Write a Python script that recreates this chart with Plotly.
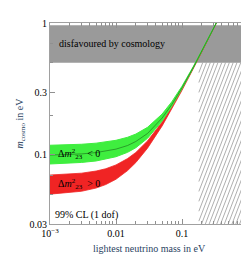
import numpy as np
import plotly.graph_objects as go

# lightest neutrino mass (eV)
m_light = [0.001, 0.002, 0.003, 0.005, 0.007, 0.01, 0.015, 0.02, 0.03, 0.05, 0.07, 0.1, 0.15, 0.2, 0.3, 0.35]
# inverted hierarchy (Δm²23 < 0)
ih_lo  = [0.0855, 0.0866, 0.0878, 0.0901, 0.0928, 0.0970, 0.1048, 0.1136, 0.1337, 0.1810, 0.2336, 0.3172, 0.4617, 0.6088, 0.9060, 1.0551]
ih_mid = [0.0998, 0.1008, 0.1019, 0.1043, 0.1069, 0.1108, 0.1180, 0.1266, 0.1455, 0.1905, 0.2410, 0.3231, 0.4660, 0.6120, 0.9080, 1.0570]
ih_hi  = [0.1185, 0.1195, 0.1206, 0.1229, 0.1253, 0.1292, 0.1362, 0.1441, 0.1619, 0.2043, 0.2528, 0.3319, 0.4722, 0.6169, 0.9114, 1.0598]
# normal hierarchy (Δm²23 > 0)
nh_lo  = [0.0505, 0.0517, 0.0531, 0.0562, 0.0597, 0.0655, 0.0762, 0.0877, 0.1125, 0.1660, 0.2222, 0.3089, 0.4561, 0.6046, 0.9031, 1.0527]
nh_hi  = [0.0705, 0.0716, 0.0728, 0.0756, 0.0787, 0.0841, 0.0940, 0.1046, 0.1277, 0.1781, 0.2320, 0.3164, 0.4613, 0.6086, 0.9058, 1.0550]

cosmo_limit = 0.5      # disfavoured by cosmology above this
cosmo_top = 0.96
hatch_xmin = 0.18      # hatched region (lightest mass)
x_range = [0.001, 1.0]
y_range = [0.03, 1.0]

x_tickvals = [0.001, 0.01, 0.1, 1]
x_ticktext = ["10<sup>\u22123</sup>", "0.01", "0.1", "1"]
y_tickvals = [0.03, 0.1, 0.3, 1]
y_ticktext = ["0.03", "0.1", "0.3", "1"]

GREEN = "#3fee3f"
RED = "#f02424"
FONT = "Liberation Serif"

fig = go.Figure()

# grey cosmology band
fig.add_trace(go.Scatter(
    x=[x_range[0], x_range[1], x_range[1], x_range[0], x_range[0]],
    y=[cosmo_limit, cosmo_limit, cosmo_top, cosmo_top, cosmo_limit],
    fill="toself", fillcolor="#9a9a9a", line=dict(width=0), mode="lines",
    hoverinfo="skip", showlegend=False))

# hatched region, lines built from region bounds in log space
xa, xb = np.log10(hatch_xmin), np.log10(x_range[1])
ya, yb = np.log10(y_range[0]), np.log10(cosmo_limit)
k = 1.3
step = 0.075
hx, hy = [], []
c = yb - k * xb
cmin = ya - k * xb
cmax = yb - k * xa
for cc in np.arange(cmax, cmin, -step):
    x1 = max(xa, (ya - cc) / k)
    x2 = min(xb, (yb - cc) / k)
    if x2 <= x1:
        continue
    hx += [10 ** x1, 10 ** x2, None]
    hy += [10 ** (k * x1 + cc), 10 ** (k * x2 + cc), None]
fig.add_trace(go.Scatter(x=hx, y=hy, mode="lines", line=dict(color="#8c8c8c", width=0.7),
                         hoverinfo="skip", showlegend=False))

# red band (normal)
fig.add_trace(go.Scatter(x=m_light, y=nh_lo, mode="lines", line=dict(color=RED, width=0.8),
                         showlegend=False, hoverinfo="skip"))
fig.add_trace(go.Scatter(x=m_light, y=nh_hi, mode="lines", line=dict(color=RED, width=0.8),
                         fill="tonexty", fillcolor=RED, showlegend=False, hoverinfo="skip"))
# green band (inverted)
fig.add_trace(go.Scatter(x=m_light, y=ih_lo, mode="lines", line=dict(color=GREEN, width=1),
                         showlegend=False, hoverinfo="skip"))
fig.add_trace(go.Scatter(x=m_light, y=ih_hi, mode="lines", line=dict(color=GREEN, width=1),
                         fill="tonexty", fillcolor=GREEN, showlegend=False, hoverinfo="skip"))
fig.add_trace(go.Scatter(x=m_light, y=ih_mid, mode="lines", line=dict(color="#1f7a1f", width=0.7),
                         showlegend=False, hoverinfo="skip"))

ann_font = dict(family=FONT, size=10, color="black")
fig.add_annotation(x=0.033, y=0.896, xref="paper", yref="paper", xanchor="left", yanchor="middle",
                   text="disfavoured by cosmology", showarrow=False, font=ann_font)
fig.add_annotation(x=0.03, y=0.35, xref="paper", yref="paper", xanchor="left", yanchor="middle",
                   text="\u0394<i>m</i><sup>2</sup><sub>23</sub>  < 0", showarrow=False, font=ann_font)
fig.add_annotation(x=0.03, y=0.20, xref="paper", yref="paper", xanchor="left", yanchor="middle",
                   text="\u0394<i>m</i><sup>2</sup><sub>23</sub>  > 0", showarrow=False, font=ann_font)
fig.add_annotation(x=0.016, y=0.047, xref="paper", yref="paper", xanchor="left", yanchor="middle",
                   text="99% CL (1 dof)", showarrow=False, font=ann_font)

x_minor = [d * 10 ** e for e in (-3, -2, -1) for d in range(2, 10)]
y_minor = [0.05, 0.07, 0.2, 0.5, 0.7]

axis_common = dict(showgrid=False, zeroline=False, showline=True, linecolor="#a0a0a0", linewidth=1,
                   mirror="allticks", ticks="inside", ticklen=5, tickcolor="#909090", tickwidth=1,
                   tickfont=dict(family=FONT, size=10, color="black"))

fig.update_xaxes(type="log", range=[np.log10(x_range[0]), np.log10(x_range[1])],
                 tickvals=x_tickvals, ticktext=x_ticktext,
                 minor=dict(tickvals=x_minor, ticks="inside", ticklen=3, tickcolor="#909090", showgrid=False),
                 title=dict(text="lightest neutrino mass in eV", font=dict(family=FONT, size=10), standoff=6),
                 **axis_common)
fig.update_yaxes(type="log", range=[np.log10(y_range[0]), np.log10(y_range[1])],
                 tickvals=y_tickvals, ticktext=y_ticktext,
                 minor=dict(tickvals=y_minor, ticks="inside", ticklen=3, tickcolor="#909090", showgrid=False),
                 title=dict(text="<i>m</i><sub>cosmo</sub> in eV", font=dict(family=FONT, size=10), standoff=4),
                 **axis_common)

fig.update_layout(width=249, height=254, margin=dict(l=42, r=6, t=15, b=38),
                  plot_bgcolor="white", paper_bgcolor="white", showlegend=False)

fig.write_html("out.html")
